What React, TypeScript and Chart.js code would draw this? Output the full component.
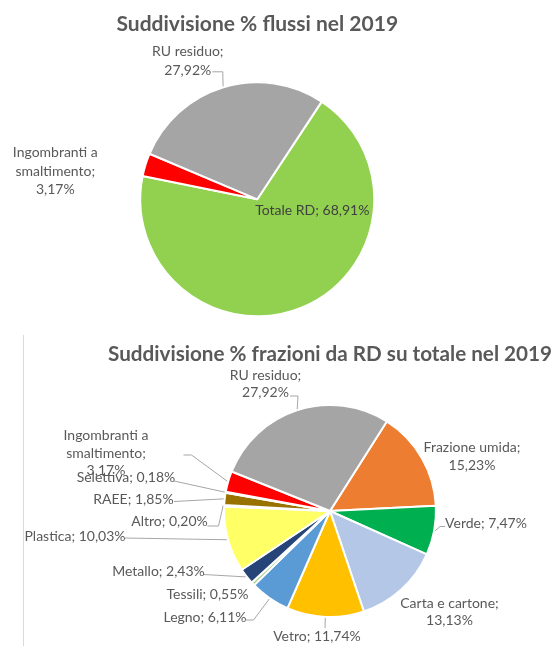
import React, { useEffect, useRef } from "react";
import { Chart, registerables } from "chart.js";

Chart.register(...registerables);

// ---- Data: chart 1 (flows) ----
const flowTitle = "Suddivisione % flussi nel 2019";
const flowLabels = ["Totale RD", "Ingombranti a smaltimento", "RU residuo"];
const flowValues = [68.91, 3.17, 27.92];
const flowColors = ["#92D050", "#FF0000", "#A5A5A5"];

// ---- Data: chart 2 (fractions) ----
const fracTitle = "Suddivisione % frazioni da RD su totale nel 2019";
const fracLabels = [
  "Frazione umida",
  "Verde",
  "Carta e cartone",
  "Vetro",
  "Legno",
  "Tessili",
  "Metallo",
  "Plastica",
  "Altro",
  "RAEE",
  "Selettiva",
  "Ingombranti a smaltimento",
  "RU residuo",
];
const fracValues = [15.23, 7.47, 13.13, 11.74, 6.11, 0.55, 2.43, 10.03, 0.2, 1.85, 0.18, 3.17, 27.92];
const fracColors = [
  "#ED7D31",
  "#00B050",
  "#B4C7E7",
  "#FFC000",
  "#5B9BD5",
  "#A9D18E",
  "#264478",
  "#FFFF66",
  "#FFFFFF",
  "#997300",
  "#FFFFFF",
  "#FF0000",
  "#A5A5A5",
];

// ---- Label layout (offsets from pie centre, px) ----
type LabelLayout = {
  wrap: number | null; // null: one line; n: words of name on first line, value on its own line
  dx: number;
  dy: number;
  leader?: [number, number][];
  color?: string;
};

const flowLayout: LabelLayout[] = [
  { wrap: null, dx: 55, dy: 11.5, color: "#404040" },
  { wrap: 2, dx: -202, dy: -28 },
  { wrap: 9, dx: -69.5, dy: -138.5, leader: [[-45, -127.5], [-34.5, -127.5]] },
];

const fracLayout: LabelLayout[] = [
  { wrap: 9, dx: 142, dy: -54.5 },
  { wrap: null, dx: 156, dy: 12.5, leader: [[115, 15.5], [110, 15.5]] },
  { wrap: 9, dx: 119.5, dy: 101 },
  { wrap: null, dx: -13, dy: 125.5, leader: [[-5, 117]] },
  { wrap: null, dx: -125, dy: 106.5, leader: [[-84, 109], [-76.5, 109]] },
  { wrap: null, dx: -122.5, dy: 83.5 },
  { wrap: null, dx: -171.5, dy: 60, leader: [[-126, 63.5]] },
  { wrap: null, dx: -255, dy: 25, leader: [[-205, 27]] },
  { wrap: null, dx: -160.5, dy: 10.5, leader: [[-122.5, 15], [-111.5, 15]] },
  { wrap: null, dx: -196.5, dy: -11.5, leader: [[-156, -9.5]] },
  { wrap: null, dx: -204, dy: -33.5, leader: [[-156, -30]] },
  { wrap: 2, dx: -224, dy: -58, leader: [[-146.5, -56], [-138.5, -56]] },
  { wrap: 9, dx: -64.5, dy: -127, leader: [[-40, -115], [-32, -115]] },
];

const fmt = (v: number) => v.toFixed(2).replace(".", ",") + "%";

function makeLines(name: string, value: number, wrap: number | null): string[] {
  if (wrap === null) return [`${name}; ${fmt(value)}`];
  const words = name.split(" ");
  const out: string[] = [];
  if (wrap < words.length) {
    out.push(words.slice(0, wrap).join(" "));
    out.push(words.slice(wrap).join(" ") + ";");
  } else {
    out.push(name + ";");
  }
  out.push(fmt(value));
  return out;
}

const sliceLabelPlugin = {
  id: "sliceLabels",
  afterDatasetsDraw(chart: any, _args: any, opts: any) {
    const layout: LabelLayout[] = opts.layout || [];
    const meta = chart.getDatasetMeta(0);
    const ds = chart.data.datasets[0];
    const ctx = chart.ctx as CanvasRenderingContext2D;
    ctx.save();
    layout.forEach((lay, i) => {
      const arc = meta.data[i];
      if (!arc) return;
      const p = arc.getProps(["x", "y", "startAngle", "endAngle", "outerRadius"], true);
      const mid = (p.startAngle + p.endAngle) / 2;
      if (lay.leader) {
        ctx.beginPath();
        ctx.strokeStyle = opts.lineColor;
        ctx.lineWidth = 1;
        ctx.moveTo(p.x + lay.leader[0][0], p.y + lay.leader[0][1]);
        for (let k = 1; k < lay.leader.length; k++) {
          ctx.lineTo(p.x + lay.leader[k][0], p.y + lay.leader[k][1]);
        }
        ctx.lineTo(p.x + Math.cos(mid) * (p.outerRadius + 1), p.y + Math.sin(mid) * (p.outerRadius + 1));
        ctx.stroke();
      }
      const lines = makeLines(chart.data.labels[i], ds.data[i], lay.wrap);
      ctx.font = `${opts.fontSize}px ${opts.fontFamily}`;
      ctx.fillStyle = lay.color || opts.color;
      ctx.textAlign = "center";
      ctx.textBaseline = "middle";
      const n = lines.length;
      lines.forEach((ln, k) => {
        ctx.fillText(ln, p.x + lay.dx, p.y + lay.dy + (k - (n - 1) / 2) * opts.lineHeight);
      });
    });
    ctx.restore();
  },
};

type PieProps = {
  width: number;
  height: number;
  top: number;
  title: string;
  labels: string[];
  values: number[];
  colors: string[];
  layout: LabelLayout[];
  rotation: number;
  radius: number;
  padding: { left: number; right: number; top: number; bottom: number };
  titlePadding: { top: number; bottom: number };
  lineHeight: number;
};

function PieChart(props: PieProps) {
  const ref = useRef<HTMLCanvasElement | null>(null);
  useEffect(() => {
    if (!ref.current) return;
    const chart = new Chart(ref.current, {
      type: "pie",
      data: {
        labels: props.labels,
        datasets: [
          {
            data: props.values,
            backgroundColor: props.colors,
            borderColor: "#FFFFFF",
            borderWidth: 2,
            hoverOffset: 0,
          },
        ],
      },
      options: {
        animation: false,
        responsive: false,
        rotation: props.rotation,
        radius: props.radius,
        layout: { padding: props.padding },
        plugins: {
          legend: { display: false },
          tooltip: { enabled: false },
          title: {
            display: true,
            text: props.title,
            color: "#595959",
            font: { family: "Lato", size: 21, weight: "bold", lineHeight: 1.2 },
            padding: props.titlePadding,
          },
          sliceLabels: {
            layout: props.layout,
            color: "#595959",
            lineColor: "#A6A6A6",
            fontFamily: "Lato",
            fontSize: 14,
            lineHeight: props.lineHeight,
          },
        } as any,
      },
      plugins: [sliceLabelPlugin as any],
    });
    return () => chart.destroy();
  }, []);
  return (
    <canvas
      ref={ref}
      width={props.width}
      height={props.height}
      style={{ position: "absolute", left: 0, top: props.top, display: "block" }}
    />
  );
}

export default function App() {
  return (
    <div
      style={{
        position: "absolute",
        left: 0,
        top: 0,
        width: 552,
        height: 646,
        background: "#FFFFFF",
        overflow: "hidden",
      }}
    >
      <PieChart
        width={552}
        height={320}
        top={0}
        title={flowTitle}
        labels={flowLabels}
        values={flowValues}
        colors={flowColors}
        layout={flowLayout}
        rotation={33.4}
        radius={117}
        padding={{ left: 100, right: 137.4, top: 0, bottom: 4.1 }}
        titlePadding={{ top: 12, bottom: 45.5 }}
        lineHeight={18.5}
      />
      <PieChart
        width={552}
        height={326}
        top={320}
        title={fracTitle}
        labels={fracLabels}
        values={fracValues}
        colors={fracColors}
        layout={fracLayout}
        rotation={32.4}
        radius={106}
        padding={{ left: 108, right: 0, top: 0, bottom: 29 }}
        titlePadding={{ top: 21.7, bottom: 38.1 }}
        lineHeight={17.5}
      />
      <div
        style={{
          position: "absolute",
          left: 23,
          top: 335,
          width: 1,
          height: 311,
          background: "#D9D9D9",
        }}
      />
    </div>
  );
}
